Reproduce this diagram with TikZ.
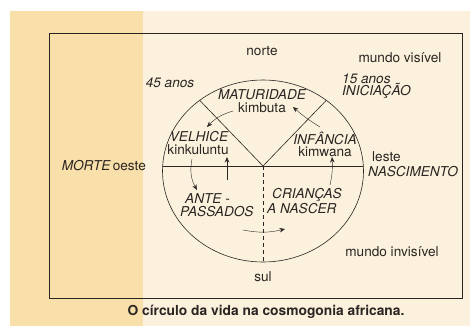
\documentclass[tikz,border=0pt]{standalone}
\usepackage{fontspec}
\setmainfont{TeX Gyre Heros}
\usetikzlibrary{arrows.meta}

\definecolor{paperleft}{HTML}{F9DFAA}
\definecolor{paperright}{HTML}{FBF1DC}
\definecolor{ink}{HTML}{2A2522}
\tikzset{
	lbl/.style={inner sep=1pt,text=ink,font=\fontsize{13.6}{12.5}\selectfont},
	ilbl/.style={lbl,font=\fontsize{13.6}{12.5}\selectfont\itshape},
	turn/.style={-{Stealth[length=5.5pt,width=4.5pt]},thin,ink}
}

\begin{document}
\begin{tikzpicture}[x=1pt,y=-1pt]
		\useasboundingbox(0,0)rectangle(470,326);
		\fill[white](0,0)rectangle(470,326);
		\fill[paperleft](10,11)rectangle(143,326);
		\fill[paperright](143,11)rectangle(470,326);
		\draw[ink,semithick](49,33)rectangle(462,298);
		% the circle
		\coordinate(v)at(263,166);
		\begin{scope}
			\clip(263,171)ellipse[x radius=100.5pt,y radius=91pt];
			\draw[ink,semithick](150,166)--(380,166);
			\draw[ink,semithick](v)--(183,83);
			\draw[ink,semithick](v)--(343,83);
			\draw[ink,semithick,dashed,dash pattern=on 4pt off 3pt](v)--(263,270);
		\end{scope}
		\draw[ink,semithick](263,171)ellipse[x radius=100.5pt,y radius=91pt];
		% labels
		\node[lbl](norte)at(262,51){norte};
		\node[lbl](sul)at(263,277){sul};
		\node[lbl](visivel)at(400,58){mundo visível};
		\node[lbl](invisivel)at(392,252){mundo invisível};
		\node[ilbl](q45)at(170,83){45 anos};
		\node[ilbl,anchor=west,align=left](inic)at(341,86){15 anos\\INICIAÇÃO};
		\node[ilbl](mat)at(262,95){MATURIDADE};
		\node[lbl](kimbuta)at(262,108){kimbuta};
		\node[ilbl](velh)at(199,137){VELHICE};
		\node[lbl](kink)at(198,150){kinkuluntu};
		\node[ilbl](inf)at(325,138){INFÂNCIA};
		\node[lbl](kimw)at(325,152){kimwana};
		\node[lbl,anchor=east](oeste)at(147,166){oeste};
		\node[ilbl,anchor=east](morte)at(oeste.west){MORTE};
		\node[lbl,anchor=west](leste)at(371,157){leste};
		\node[ilbl,anchor=west](nasc)at(367,172){NASCIMENTO};
		\node[ilbl,anchor=west,align=left](ante)at(179,205){\hspace*{5pt}ANTE -\\PASSADOS};
		\node[ilbl,anchor=west,align=left](cri)at(266,201){\hspace*{5pt}CRIANÇAS\\A NASCER};
		\node[font=\fontsize{13.8}{14}\selectfont\bfseries,text=ink](cap)at(266,312){O círculo da vida na cosmogonia africana.};
		% arrows round the circle
		\coordinate(a1)at(233,111);\coordinate(b1)at(207,127);
		\coordinate(a2)at(320,127);\coordinate(b2)at(293,107);
		\coordinate(a3)at(192,159);\coordinate(b3)at(197,190);
		\coordinate(a4)at(227,180);\coordinate(b4)at(227,157);
		\coordinate(a5)at(330,185);\coordinate(b5)at(332,157);
		\coordinate(a6)at(243,230);\coordinate(b6)at(285,229);
		\draw[turn](a1)to[bend right=15](b1);
		\draw[turn](a2)to[bend left=5](b2);
		\draw[turn](a3)to[bend right=20](b3);
		\draw[turn](a4)--(b4);
		\draw[turn](a5)to[bend right=8](b5);
		\draw[turn](a6)to[bend right=12](b6);
	\end{tikzpicture}
\end{document}
